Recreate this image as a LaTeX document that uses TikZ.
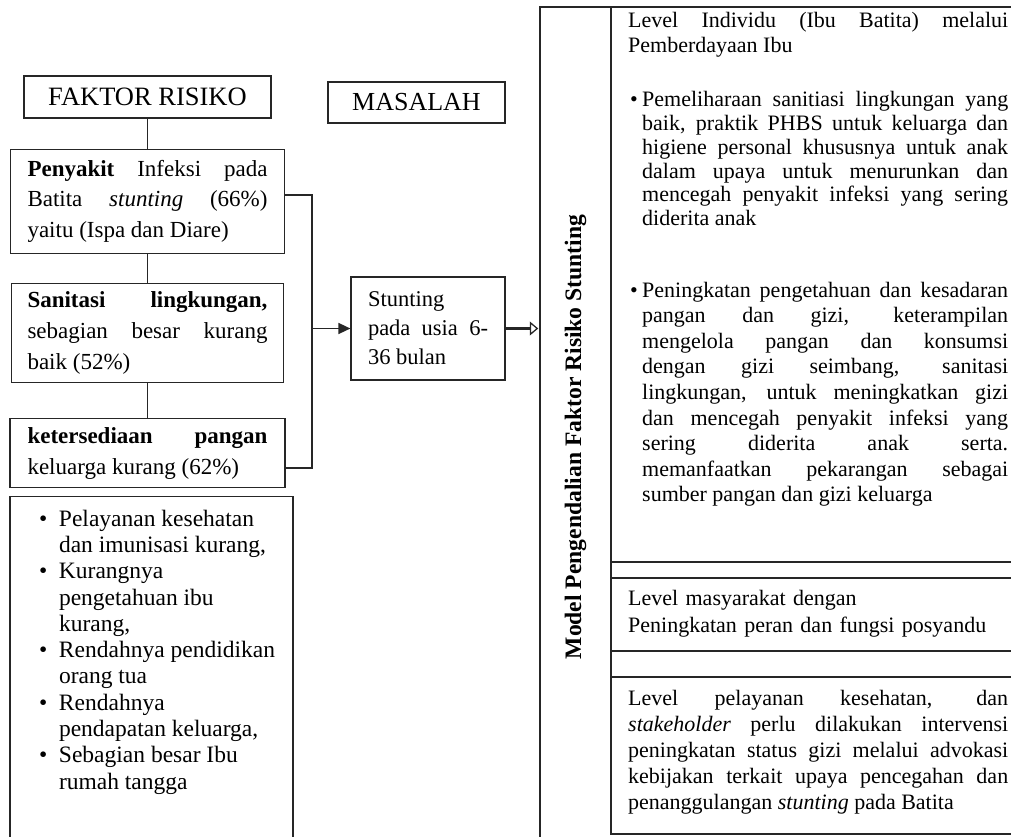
\documentclass[tikz,border=0pt]{standalone}
\usepackage{fontspec}
\setmainfont{Liberation Serif}
\usetikzlibrary{positioning,arrows.meta,shapes.arrows}

\newcommand{\rbullet}{\hangindent=14pt\hangafter=1\noindent\makebox[14pt][l]{\hspace{2pt}\textbullet}}
\newcommand{\lbullet}{\hangindent=20pt\hangafter=1\noindent\makebox[20pt][l]{\textbullet}}

\tikzset{
    box/.style={draw=black!85, line width=1.2pt, inner sep=0pt, anchor=center},
    leftbox/.style={box, text width=240pt, align=justify,
        font=\fontsize{23}{30.8}\selectfont},
    rightpar/.style={anchor=base west, inner sep=0pt, text width=380pt, align=justify},
    tableline/.style={draw=black!85, line width=1.8pt},
    link/.style={draw=black!85, line width=1.6pt}
}

\begin{document}
\begin{tikzpicture}[x=1pt, y=-1pt]
    \useasboundingbox (0,0) rectangle (1011,837);
    \tolerance=9999 \hbadness=10000 \emergencystretch=20pt

    \node[box, minimum width=247pt, minimum height=42pt,
        font=\fontsize{26.5}{30}\selectfont] (faktor risiko) at (147.5,97) {FAKTOR RISIKO};
    \node[leftbox, minimum width=274pt, minimum height=104pt, below=30pt of faktor risiko] (penyakit box)
        {\textbf{Penyakit} Infeksi pada\linebreak Batita \textit{stunting} (66\%)\linebreak yaitu (Ispa dan Diare)};
    \node[leftbox, minimum width=272pt, minimum height=99pt, below=29pt of penyakit box] (sanitasi box)
        {\textbf{Sanitasi lingkungan,}\linebreak sebagian besar kurang\linebreak baik (52\%)};
    \node[leftbox, minimum width=275pt, minimum height=69pt, below=35pt of sanitasi box] (pangan box)
        {\textbf{ketersediaan pangan}\linebreak keluarga kurang (62\%)};
    \node[box, minimum width=283pt, minimum height=344pt, below right=8pt and 0pt of pangan box.south west] (lain box)
        {\parbox[c][318pt][t]{263pt}{\fontsize{23.5}{26.3}\selectfont\raggedright\leftskip=19pt
            \lbullet Pelayanan kesehatan\newline dan imunisasi kurang,\par
            \lbullet Kurangnya\newline pengetahuan ibu\newline kurang,\par
            \lbullet Rendahnya pendidikan\newline orang tua\par
            \lbullet Rendahnya\newline pendapatan keluarga,\par
            \lbullet Sebagian besar Ibu\newline rumah tangga\par}};

    \draw[link] (faktor risiko) -- (penyakit box);
    \draw[link] (penyakit box) -- (sanitasi box);
    \draw[link] (sanitasi box) -- (pangan box);

    % masalah
    \node[box, minimum width=177pt, minimum height=41pt,
        font=\fontsize{26}{30}\selectfont] (masalah) at (416.5,102.5) {MASALAH};
    \node[box, minimum width=154pt, minimum height=103pt, text width=120pt, align=justify,
        font=\fontsize{22.5}{29}\selectfont] (stunting box) at (428,328.5)
        {Stunting\\ pada usia 6-\linebreak 36 bulan};

    \coordinate (junction) at (312,328.5);
    \draw[link] ([yshift=6pt]penyakit box.east) -| (junction) |- ([yshift=-15pt]pangan box.east);
    \draw[link, -{Triangle[length=12pt, width=11pt]}] (junction) -- (stunting box);

    \node[single arrow, draw=black!85, line width=1.3pt, inner sep=0pt, minimum height=31pt,
        minimum width=9pt, single arrow head extend=5pt, single arrow tip angle=80,
        anchor=tail] (hollow arrow) at (stunting box.east) {};

    % model pengendalian
    \draw[tableline] (540,837) -- (540,7) -- (1011,7);
    \draw[tableline] (611,7) -- (611,834) -- (1011,834);
    \foreach \y in {562,578,651,677}
        \draw[tableline] (611,\y) -- (1011,\y);

    \node[rotate=90, font=\bfseries\fontsize{23.6}{28}\selectfont] (model label) at (575.5,437)
        {Model Pengendalian Faktor Risiko Stunting};

    \node[rightpar, font=\fontsize{22}{25}\selectfont] (level individu) at (628,28)
        {Level Individu (Ibu Batita) melalui\linebreak Pemberdayaan Ibu\par};
    \node[rightpar, font=\fontsize{22}{23.7}\selectfont] (pemeliharaan) at (628,107)
        {\rbullet Pemeliharaan sanitiasi lingkungan yang\linebreak baik, praktik PHBS untuk keluarga dan\linebreak
        higiene personal khususnya untuk anak\linebreak dalam upaya untuk menurunkan dan\linebreak
        mencegah penyakit infeksi yang sering\linebreak diderita anak\par};
    \node[rightpar, font=\fontsize{22}{25.6}\selectfont] (peningkatan) at (628,297)
        {\rbullet Peningkatan pengetahuan dan kesadaran\linebreak pangan dan gizi, keterampilan\linebreak
        mengelola pangan dan konsumsi\linebreak dengan gizi seimbang, sanitasi\linebreak
        lingkungan, untuk meningkatkan gizi\linebreak dan mencegah penyakit infeksi yang\linebreak
        sering diderita anak serta.\linebreak memanfaatkan pekarangan sebagai\linebreak
        sumber pangan dan gizi keluarga\par};
    \node[rightpar, align=left, font=\fontsize{22}{27}\selectfont] (level masyarakat) at (628,605)
        {Level masyarakat dengan\\ Peningkatan peran dan fungsi posyandu};
    \node[rightpar, font=\fontsize{22}{26}\selectfont] (level pelayanan) at (628,705)
        {Level pelayanan kesehatan, dan\linebreak \textit{stakeholder} perlu dilakukan intervensi\linebreak
        peningkatan status gizi melalui advokasi\linebreak kebijakan terkait upaya pencegahan dan\linebreak
        penanggulangan \textit{stunting} pada Batita\par};
\end{tikzpicture}
\end{document}
